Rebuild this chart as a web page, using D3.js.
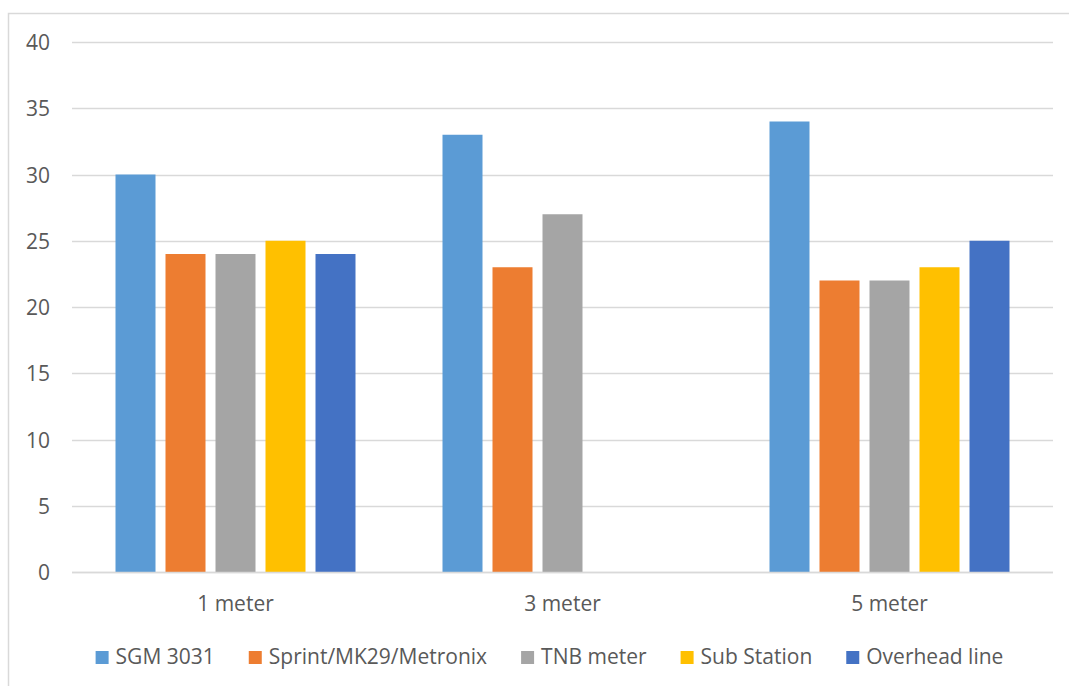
<!DOCTYPE html>
<html>
<head>
<meta charset="utf-8">
<script src="https://cdn.jsdelivr.net/npm/d3@7"></script>
<style>
  html, body { margin: 0; padding: 0; background: #fff; }
  svg { display: block; font-family: "Open Sans", sans-serif; }
</style>
</head>
<body>
<svg id="chart" width="1069" height="686"></svg>
<script>
// Distance categories and readings per meter type
const categories = ["1 meter", "3 meter", "5 meter"];
const seriesNames = ["SGM 3031", "Sprint/MK29/Metronix", "TNB meter", "Sub Station", "Overhead line"];
const sgm3031   = [30, 33, 34];
const sprint    = [24, 23, 22];
const tnbMeter  = [24, 27, 22];
const subStation = [25, null, 23];
const overhead  = [24, null, 25];
const yTicks = [0, 5, 10, 15, 20, 25, 30, 35, 40];

const seriesValues = [sgm3031, sprint, tnbMeter, subStation, overhead];
const colors = ["#5B9BD5", "#ED7D31", "#A5A5A5", "#FFC000", "#4472C4"];

const svg = d3.select("#chart");
const plot = { left: 72, right: 1053, top: 42, bottom: 572 };

// outer chart frame
svg.append("rect")
  .attr("x", 8.5).attr("y", 13.5)
  .attr("width", 1100).attr("height", 700)
  .attr("fill", "#fff").attr("stroke", "#D9D9D9").attr("stroke-width", 1.5);

const y = d3.scaleLinear().domain([0, 40]).range([plot.bottom, plot.top]);
const x0 = d3.scaleBand().domain(categories).range([plot.left, plot.right]);

// bars within a group: 40px wide on a 50px step, centred in each band
const x1 = d3.scaleBand().domain(seriesNames).range([-120, 120]).paddingInner(0.2).paddingOuter(0);

// gridlines
svg.append("g").selectAll("line").data(yTicks).join("line")
  .attr("x1", plot.left).attr("x2", plot.right)
  .attr("y1", d => Math.round(y(d)) + 0.5).attr("y2", d => Math.round(y(d)) + 0.5)
  .attr("stroke", "#D9D9D9").attr("stroke-width", 1.5);

// y-axis labels
const yAxis = d3.axisLeft(y).tickValues(yTicks).tickSize(0).tickPadding(0);
const yg = svg.append("g").attr("transform", "translate(50,0)").call(yAxis);
yg.select(".domain").remove();
yg.selectAll("text")
  .attr("fill", "#595959").attr("font-size", 21).attr("dy", "0.36em")
  .attr("font-family", "Open Sans, sans-serif");

// bars
const groups = svg.append("g").selectAll("g").data(categories).join("g")
  .attr("transform", d => `translate(${x0(d) + x0.bandwidth() / 2},0)`);
groups.selectAll("rect")
  .data((c, ci) => seriesNames.map((s, si) => ({ s, si, v: seriesValues[si][ci] })).filter(d => d.v != null))
  .join("rect")
  .attr("x", d => x1(d.s))
  .attr("width", x1.bandwidth())
  .attr("y", d => y(d.v))
  .attr("height", d => y(0) - y(d.v))
  .attr("fill", d => colors[d.si]);

// x-axis baseline
svg.append("line")
  .attr("x1", plot.left).attr("x2", plot.right)
  .attr("y1", plot.bottom + 0.5).attr("y2", plot.bottom + 0.5)
  .attr("stroke", "#D9D9D9").attr("stroke-width", 1.5);

// category labels
const xAxis = d3.axisBottom(x0).tickSize(0).tickPadding(0);
const xg = svg.append("g").attr("transform", "translate(0,611)").call(xAxis);
xg.select(".domain").remove();
xg.selectAll("text")
  .attr("fill", "#595959").attr("font-size", 21).attr("dy", 0)
  .attr("font-family", "Open Sans, sans-serif");

// legend
const legend = svg.append("g");
const items = legend.selectAll("g").data(seriesNames).join("g");
items.append("rect").attr("width", 13).attr("height", 13).attr("y", 651)
  .attr("fill", (d, i) => colors[i]);
items.append("text").text(d => d).attr("x", 20).attr("y", 664)
  .attr("fill", "#595959").attr("font-size", 21);
const widths = items.nodes().map(n => 20 + d3.select(n).select("text").node().getComputedTextLength());
const gap = 34;
const total = d3.sum(widths) + gap * (widths.length - 1);
let cx = 549.5 - total / 2;
items.attr("transform", (d, i) => {
  const t = `translate(${cx},0)`;
  cx += widths[i] + gap;
  return t;
});
</script>
</body>
</html>
